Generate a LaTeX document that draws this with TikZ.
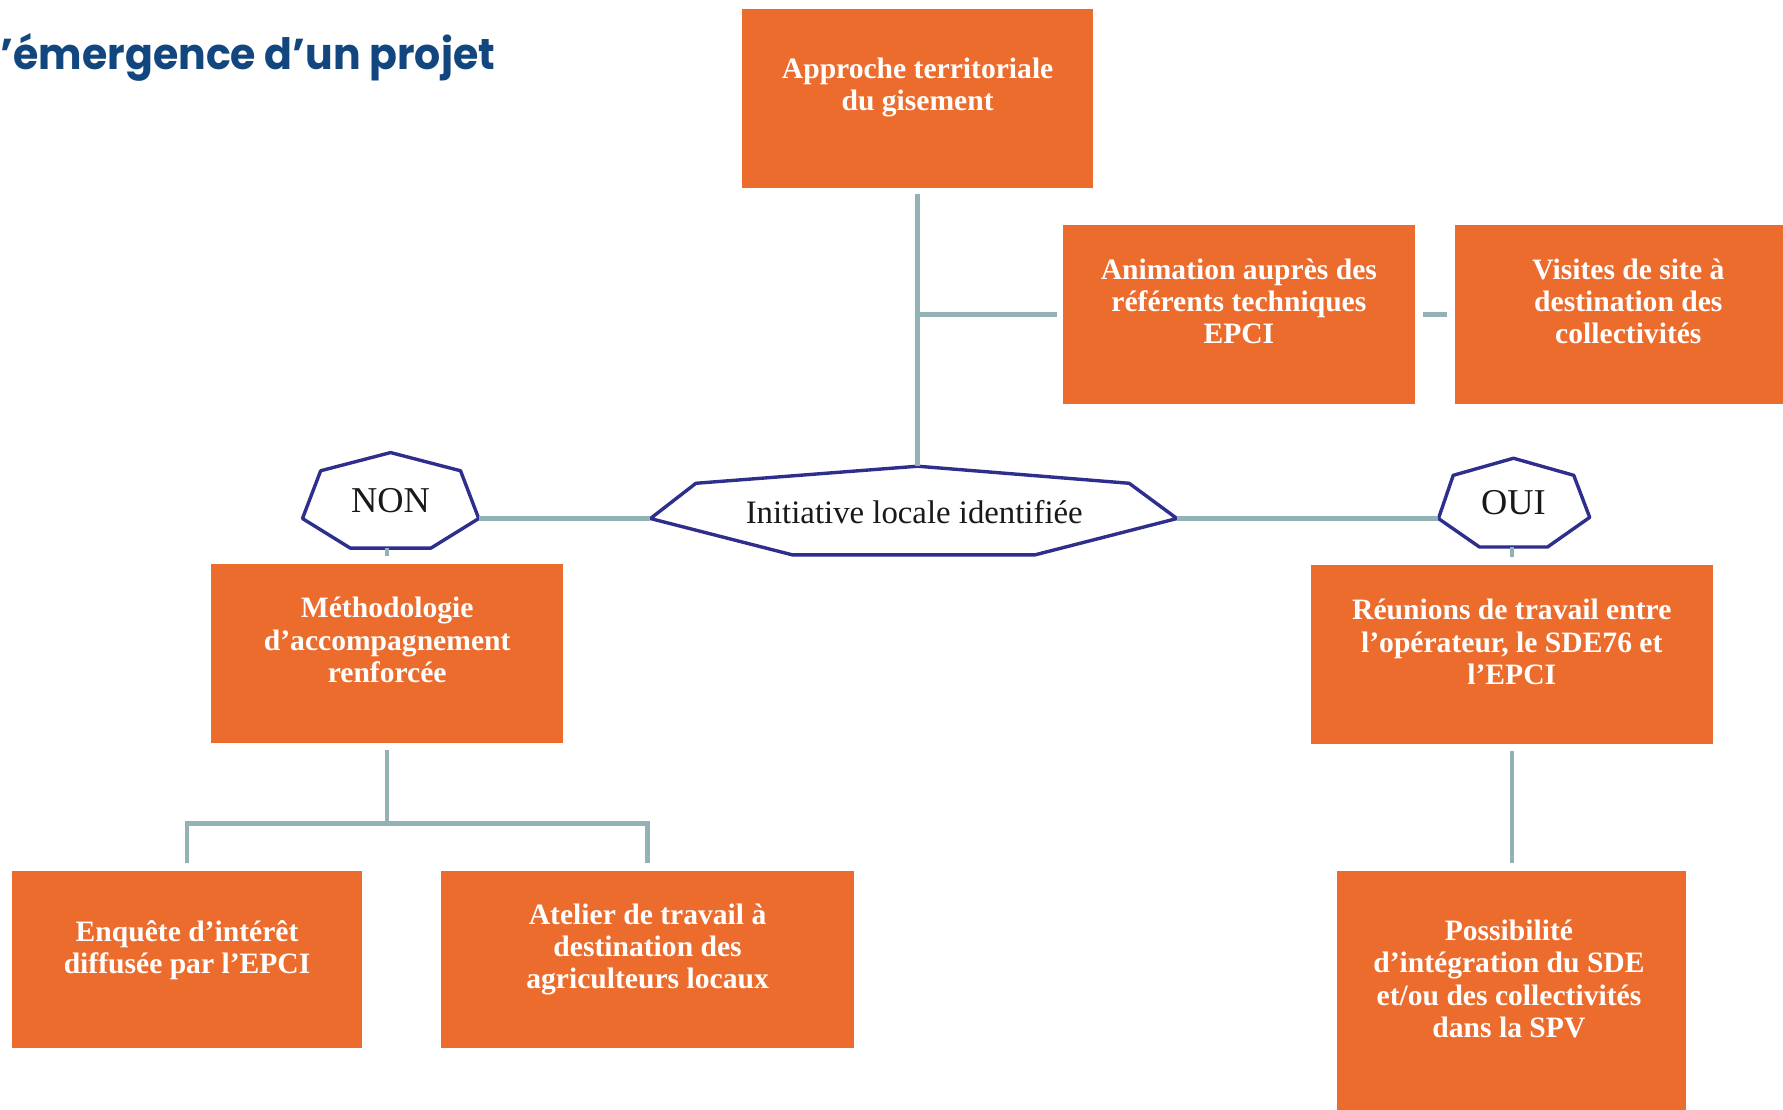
\documentclass[tikz,border=0pt]{standalone}
\usepackage{fontspec}
\setmainfont{Liberation Serif}
\newfontfamily\titlefont[FakeStretch=0.95]{Poppins}
\definecolor{orangebox}{RGB}{236,108,45}
\definecolor{connc}{RGB}{146,178,182}
\definecolor{heptc}{RGB}{46,46,140}
\definecolor{titlec}{RGB}{18,70,126}
\tikzset{
  box/.style={fill=orangebox, draw=none, inner sep=0pt},
  boxtxt/.style={text=white, inner sep=0pt, align=center, font=\fontsize{7.4}{8.1}\selectfont\bfseries},
  hepttxt/.style={text=black!90, inner sep=0pt, font=\fontsize{8.2}{9}\selectfont},
  conn/.style={draw=connc, line width=1.15pt},
  hept/.style={draw=heptc, line width=0.85pt, line join=round, fill=white},
}
\begin{document}
\begin{tikzpicture}[x=0.01cm, y=-0.01cm]
\useasboundingbox (0,0) rectangle (1568,976);
\fill[white] (0,0) rectangle (1568,976);
\clip (0,0) rectangle (1568,976);

% title
\node[anchor=base west, inner sep=0pt, text=titlec, font=\titlefont\bfseries\fontsize{10.8}{12}\selectfont] (title) at (0,61) {’émergence d’un projet};

% orange boxes
\node[box, minimum width=3.08cm, minimum height=1.57cm] (appr) at (807,86.5) {};
\node[boxtxt] (apprt) at (807,77) {Approche territoriale\\du gisement};

\node[box, minimum width=3.09cm, minimum height=1.57cm] (anim) at (1089.5,276.5) {};
\node[boxtxt] (animt) at (1089.5,265) {Animation auprès des\\référents techniques\\EPCI};

\node[box, minimum width=3.10cm, minimum height=1.57cm] (visi) at (1435,276.5) {};
\node[boxtxt] (visit) at (1432,265) {Visites de site à\\destination des\\collectivités};

\node[box, minimum width=3.09cm, minimum height=1.57cm] (meth) at (340.5,574.5) {};
\node[boxtxt] (metht) at (340.5,563) {Méthodologie\\d’accompagnement\\renforcée};

\node[box, minimum width=3.07cm, minimum height=1.56cm] (enq) at (164.5,844) {};
\node[boxtxt] (enqt) at (164.5,835.5) {Enquête d’intérêt\\diffusée par l’EPCI};

\node[box, minimum width=3.63cm, minimum height=1.56cm] (atel) at (569.5,844) {};
\node[boxtxt] (atelt) at (569.5,835) {Atelier de travail à\\destination des\\agriculteurs locaux};

\node[box, minimum width=3.53cm, minimum height=1.57cm] (reun) at (1329.5,575.5) {};
\node[boxtxt] (reunt) at (1329.5,564.5) {Réunions de travail entre\\l’opérateur, le SDE76 et\\l’EPCI};

\node[box, minimum width=3.07cm, minimum height=2.14cm] (poss) at (1329.5,873) {};
\node[boxtxt] (posst) at (1327,861) {Possibilité\\d’intégration du SDE\\et/ou des collectivités\\dans la SPV};

% heptagons
\coordinate (non-T) at (343.5,398); \coordinate (non-UR) at (405,414);
\coordinate (non-R) at (421,456);   \coordinate (non-LR) at (379,482);
\coordinate (non-LL) at (308,482);  \coordinate (non-L) at (266,456);
\coordinate (non-UL) at (282,414);
\draw[hept] (non-T) -- (non-UR) -- (non-R) -- (non-LR) -- (non-LL) -- (non-L) -- (non-UL) -- cycle;
\node[hepttxt, font=\fontsize{9.1}{10}\selectfont] (non) at (343.5,440) {NON};

\coordinate (ini-T) at (807,410);   \coordinate (ini-UR) at (993,425);
\coordinate (ini-R) at (1035,456);  \coordinate (ini-LR) at (910,488);
\coordinate (ini-LL) at (697,488);  \coordinate (ini-L) at (572,456);
\coordinate (ini-UL) at (612,425);
\draw[hept] (ini-T) -- (ini-UR) -- (ini-R) -- (ini-LR) -- (ini-LL) -- (ini-L) -- (ini-UL) -- cycle;
\node[hepttxt] (ini) at (804,450) {Initiative locale identifiée};

\coordinate (oui-T) at (1331,403);  \coordinate (oui-UR) at (1384,418);
\coordinate (oui-R) at (1398,455);  \coordinate (oui-LR) at (1361,481);
\coordinate (oui-LL) at (1301,481); \coordinate (oui-L) at (1265,456);
\coordinate (oui-UL) at (1278,418);
\draw[hept] (oui-T) -- (oui-UR) -- (oui-R) -- (oui-LR) -- (oui-LL) -- (oui-L) -- (oui-UL) -- cycle;
\node[hepttxt, font=\fontsize{9.1}{10}\selectfont] (oui) at (1331,442) {OUI};

% connectors
\draw[conn] ([yshift=-0.05cm]appr.south) -- (ini-T);
\draw[conn] (appr.south |- anim.west) -- ([xshift=-0.05cm]anim.west);
\draw[conn] ([xshift=0.07cm]anim.east) -- ([xshift=-0.07cm]visi.west);
\draw[conn] (non-R) -- (ini-L);
\draw[conn] (ini-R) -- (oui-L);
\draw[conn] (meth.north |- non-LL) -- ([yshift=0.06cm]meth.north);
\draw[conn] (reun.north |- oui-LL) -- ([yshift=0.06cm]reun.north);
\coordinate (split) at (340.5,724);
\draw[conn] ([yshift=-0.06cm]meth.south) -- (split);
\draw[conn] ([yshift=0.06cm]enq.north) |- (split) -| ([yshift=0.06cm]atel.north);
\draw[conn] ([yshift=-0.06cm]reun.south) -- ([yshift=0.06cm]poss.north);
\end{tikzpicture}
\end{document}
